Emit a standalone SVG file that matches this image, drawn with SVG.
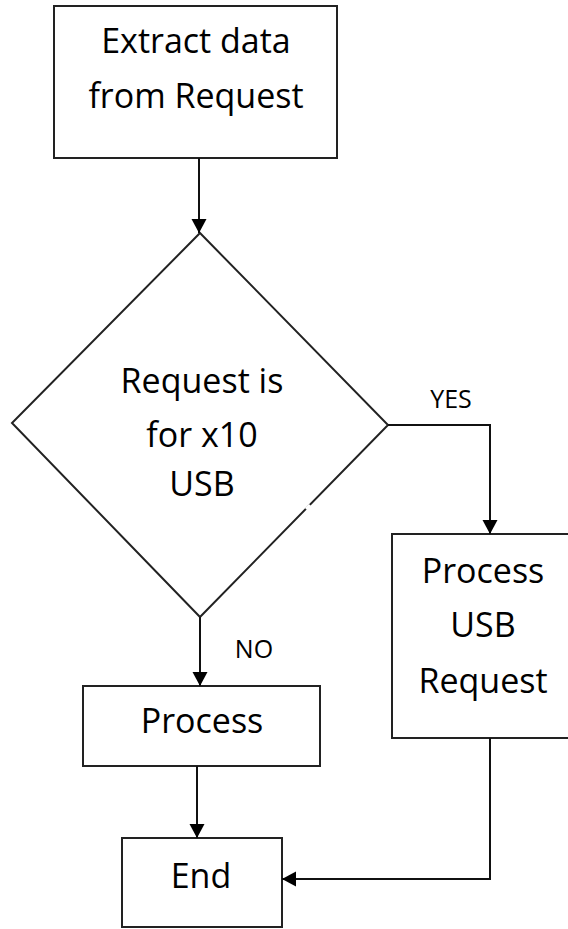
<svg xmlns="http://www.w3.org/2000/svg" width="568" height="929" viewBox="0 0 568 929">
  <style>
    .box { fill: #fff; stroke: #222; stroke-width: 2; }
    .edge { fill: none; stroke: #111; stroke-width: 2; }
    .label { font-family: "Open Sans", Lato, "Liberation Sans", sans-serif; font-size: 34px; fill: #000; text-anchor: middle; }
    .small { font-family: "Open Sans", Lato, "Liberation Sans", sans-serif; font-size: 25px; fill: #000; text-anchor: middle; }
  </style>
  <defs>
    <marker id="arrow" markerUnits="userSpaceOnUse" markerWidth="16" markerHeight="16" refX="14" refY="7.5" orient="auto">
      <path d="M0,0 L14,7.5 L0,15 z" fill="#000"/>
    </marker>
  </defs>
  <rect width="568" height="929" fill="#fff"/>

  <g id="extract">
    <rect class="box" x="54" y="6" width="283" height="152"/>
    <text class="label" x="196" y="53">Extract data</text>
    <text class="label" x="196" y="108">from Request</text>
  </g>

  <g id="decision">
    <polygon class="box" points="200,233 388,425 200,617 12,423"/>
    <!-- small break in the lower-right edge -->
    <line x1="306" y1="509" x2="310" y2="505" stroke="#fff" stroke-width="3"/>
    <text class="label" x="202" y="393">Request is</text>
    <text class="label" x="202" y="447">for x10</text>
    <text class="label" x="202" y="496">USB</text>
  </g>

  <g id="process-usb">
    <rect class="box" x="392" y="534" width="190" height="204"/>
    <text class="label" x="483" y="583">Process</text>
    <text class="label" x="483" y="637">USB</text>
    <text class="label" x="483" y="693">Request</text>
  </g>

  <g id="process">
    <rect class="box" x="83" y="686" width="237" height="80"/>
    <text class="label" x="202" y="733">Process</text>
  </g>

  <g id="end">
    <rect class="box" x="122" y="838" width="160" height="89"/>
    <text class="label" x="201" y="888">End</text>
  </g>

  <g id="connectors">
    <path class="edge" d="M199,158 V233" marker-end="url(#arrow)"/>
    <path class="edge" d="M388,425 H490 V534" marker-end="url(#arrow)"/>
    <path class="edge" d="M200,617 V686" marker-end="url(#arrow)"/>
    <path class="edge" d="M197,766 V838" marker-end="url(#arrow)"/>
    <path class="edge" d="M490,738 V879 H282" marker-end="url(#arrow)"/>
    <text class="small" x="451" y="408">YES</text>
    <text class="small" x="254" y="658">NO</text>
  </g>
</svg>
